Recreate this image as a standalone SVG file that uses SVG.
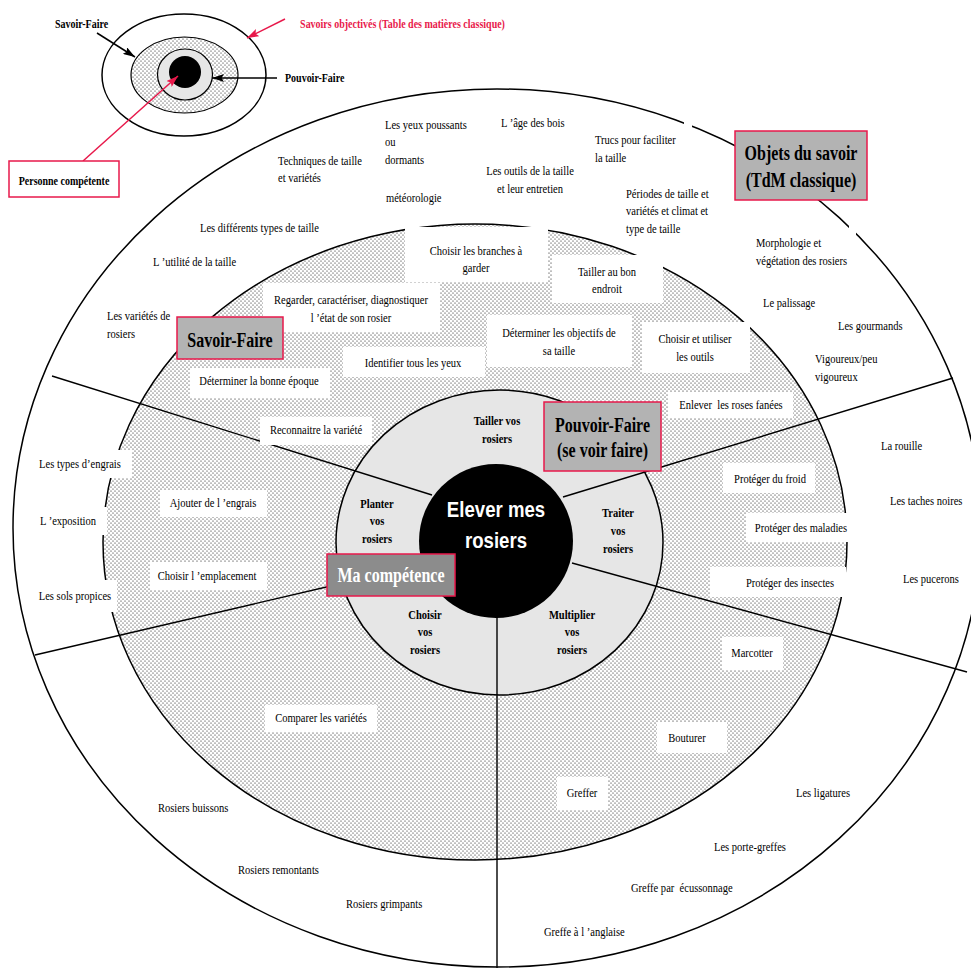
<svg xmlns="http://www.w3.org/2000/svg" width="971" height="970" viewBox="0 0 971 970">
<defs>
<pattern id="dots" width="4" height="4" patternUnits="userSpaceOnUse">
<rect width="4" height="4" fill="#fff"/>
<circle cx="1" cy="1" r="0.55" fill="#000"/>
<circle cx="3" cy="3" r="0.55" fill="#000"/>
</pattern>
<marker id="ak" viewBox="0 0 10 10" refX="10" refY="5" markerWidth="12" markerHeight="8" markerUnits="userSpaceOnUse" orient="auto" preserveAspectRatio="none"><path d="M0,0 L10,5 L0,10 L2,5 z" fill="#000"/></marker>
<marker id="ar" viewBox="0 0 10 10" refX="10" refY="5" markerWidth="12" markerHeight="8" markerUnits="userSpaceOnUse" orient="auto" preserveAspectRatio="none"><path d="M0,0 L10,5 L0,10 L2,5 z" fill="#e8194b"/></marker>
<style>
.t{font-family:"Liberation Serif","Times New Roman",serif;font-size:13px;fill:#000}
.b{font-weight:bold}
.c{text-anchor:middle}
.ttl{font-family:"Liberation Serif","Times New Roman",serif;font-size:20px;font-weight:bold;fill:#000;text-anchor:middle}
.lg{font-family:"Liberation Serif","Times New Roman",serif;font-size:12.5px;font-weight:bold;fill:#000}
.ctr{font-family:"Liberation Sans",Arial,sans-serif;font-size:23px;font-weight:bold;fill:#fff;text-anchor:middle}
.wb{fill:#fff;stroke:none}
.tb{fill:#b3b3b3;stroke:#e8194b;stroke-width:1.5}
.ln{stroke:#000;stroke-width:1.4;fill:none}
</style>
</defs>
<rect width="971" height="970" fill="#fff"/>

<g id="legend">
<ellipse cx="184" cy="75" rx="82" ry="61" fill="#fff" stroke="#000" stroke-width="1.5"/>
<ellipse cx="184.5" cy="75" rx="53.5" ry="38" fill="url(#dots)" stroke="#000" stroke-width="1.2"/>
<ellipse cx="185" cy="74.5" rx="27.5" ry="25.5" fill="#e6e6e6" stroke="#000" stroke-width="1.2"/>
<circle cx="185" cy="72" r="16" fill="#000"/>
</g>

<g id="rings">
<ellipse cx="497" cy="528" rx="484" ry="439" fill="#fff" stroke="#000" stroke-width="1.5"/>
<ellipse cx="475" cy="542" rx="372" ry="318" fill="url(#dots)" stroke="#000" stroke-width="1.5"/>
<ellipse cx="499.5" cy="542.5" rx="163.5" ry="152.5" fill="#e6e6e6" stroke="#000" stroke-width="1.5"/>
<circle cx="496" cy="541" r="77" fill="#000"/>
</g>

<g id="connectors">
<line class="ln" x1="52" y1="376" x2="432" y2="495"/>
<line class="ln" x1="35" y1="655" x2="335" y2="585"/>
<line class="ln" x1="497" y1="617" x2="497" y2="968"/>
<line class="ln" x1="572" y1="563" x2="967" y2="672"/>
<line class="ln" x1="563" y1="497" x2="953" y2="378"/>
<line stroke="#000" stroke-width="1.5" x1="97" y1="33" x2="135" y2="57" marker-end="url(#ak)"/>
<line stroke="#000" stroke-width="1.5" x1="277" y1="78" x2="212" y2="78" marker-end="url(#ak)"/>
<line stroke="#e8194b" stroke-width="1.5" x1="285" y1="19" x2="247" y2="38" marker-end="url(#ar)"/>
<line stroke="#e8194b" stroke-width="1.5" x1="83" y1="161" x2="178" y2="76" marker-end="url(#ar)"/>
</g>

<g id="label-boxes">
<rect class="wb" x="405" y="227" width="143" height="55"/>
<rect class="wb" x="552" y="255" width="111" height="48"/>
<rect class="wb" x="263" y="283" width="177" height="49"/>
<rect class="wb" x="487" y="315" width="145" height="52"/>
<rect class="wb" x="642" y="322" width="108" height="51"/>
<rect class="wb" x="343" y="347" width="142" height="30"/>
<rect class="wb" x="190" y="368" width="140" height="30"/>
<rect class="wb" x="260" y="417" width="112" height="28"/>
<rect class="wb" x="160" y="490" width="107" height="27"/>
<rect class="wb" x="150" y="562" width="117" height="28"/>
<rect class="wb" x="33" y="450" width="99" height="28"/>
<rect class="wb" x="33" y="507" width="74" height="28"/>
<rect class="wb" x="33" y="580" width="84" height="32"/>
<rect class="wb" x="265" y="705" width="112" height="27"/>
<rect class="wb" x="668" y="392" width="125" height="26"/>
<rect class="wb" x="723" y="463" width="92" height="30"/>
<rect class="wb" x="746" y="513" width="102" height="29"/>
<rect class="wb" x="710" y="567" width="136" height="30"/>
<rect class="wb" x="722" y="637" width="61" height="33"/>
<rect class="wb" x="657" y="722" width="70" height="31"/>
<rect class="wb" x="557" y="777" width="51" height="33"/>
<rect class="wb" x="684" y="114" width="8" height="18"/>
<rect class="wb" x="849" y="219" width="7" height="22"/>
</g>

<g id="node-center">
<text class="ctr" transform="translate(496,517) scale(0.81,1)">Elever mes</text>
<text class="ctr" transform="translate(496,548) scale(0.81,1)">rosiers</text>
</g>

<g id="node-objets">
<rect class="tb" x="735" y="131" width="132" height="69"/>
<text class="ttl" transform="translate(801,160) scale(0.8,1)">Objets du savoir</text>
<text class="ttl" transform="translate(801,187) scale(0.8,1)">(TdM classique)</text>
</g>
<g id="node-savoir-faire">
<rect class="tb" x="177" y="317" width="106" height="42"/>
<text class="ttl" transform="translate(230,347) scale(0.8,1)">Savoir-Faire</text>
</g>
<g id="node-pouvoir-faire">
<rect class="tb" x="544" y="402" width="117" height="69"/>
<text class="ttl" transform="translate(602.5,432) scale(0.8,1)">Pouvoir-Faire</text>
<text class="ttl" transform="translate(602.5,457) scale(0.8,1)">(se voir faire)</text>
</g>
<g id="node-competence">
<rect x="327" y="554" width="128" height="42" fill="#8c8c8c" stroke="#e8194b" stroke-width="1.5"/>
<text class="ttl" style="fill:#fff" transform="translate(391,582) scale(0.8,1)">Ma compétence</text>
</g>

<g id="legend-labels">
<text class="lg c" transform="translate(81.5,28) scale(0.8,1)">Savoir-Faire</text>
<text class="lg c" style="fill:#e8194b" transform="translate(402.5,28) scale(0.8,1)">Savoirs objectivés (Table des matières classique)</text>
<text class="lg" transform="translate(285,82) scale(0.8,1)">Pouvoir-Faire</text>
<g id="node-personne">
<rect x="9" y="161" width="110" height="36" fill="#fff" stroke="#e8194b" stroke-width="1.5"/>
<text class="lg c" transform="translate(64,185) scale(0.8,1)">Personne compétente</text>
</g>
</g>

<g id="pouvoir-labels">
<text class="t b c" transform="translate(497,425) scale(0.81,1)">Tailler vos<tspan x="0" dy="18">rosiers</tspan></text>
<text class="t b c" transform="translate(377,508) scale(0.81,1)">Planter<tspan x="0" dy="17.5">vos</tspan><tspan x="0" dy="17.5">rosiers</tspan></text>
<text class="t b c" transform="translate(618,517) scale(0.81,1)">Traiter<tspan x="0" dy="18">vos</tspan><tspan x="0" dy="18">rosiers</tspan></text>
<text class="t b c" transform="translate(425,619) scale(0.81,1)">Choisir<tspan x="0" dy="17.5">vos</tspan><tspan x="0" dy="17.5">rosiers</tspan></text>
<text class="t b c" transform="translate(572,619) scale(0.81,1)">Multiplier<tspan x="0" dy="17.5">vos</tspan><tspan x="0" dy="17.5">rosiers</tspan></text>
</g>

<g id="savoir-faire-labels">
<text class="t c" transform="translate(476,255) scale(0.81,1)">Choisir les branches à<tspan x="0" dy="17.5">garder</tspan></text>
<text class="t c" transform="translate(607,276) scale(0.81,1)">Tailler au bon<tspan x="0" dy="17.5">endroit</tspan></text>
<text class="t c" transform="translate(351,304) scale(0.81,1)">Regarder, caractériser, diagnostiquer<tspan x="0" dy="18">l ’état de son rosier</tspan></text>
<text class="t c" transform="translate(559,337) scale(0.81,1)">Déterminer les objectifs de<tspan x="0" dy="18">sa taille</tspan></text>
<text class="t c" transform="translate(695,343) scale(0.81,1)">Choisir et utiliser<tspan x="0" dy="18.5">les outils</tspan></text>
<text class="t c" transform="translate(413,367) scale(0.81,1)">Identifier tous les yeux</text>
<text class="t c" transform="translate(259,385) scale(0.81,1)">Déterminer la bonne époque</text>
<text class="t c" transform="translate(316,434) scale(0.81,1)">Reconnaitre la variété</text>
<text class="t c" transform="translate(213,507) scale(0.81,1)">Ajouter de l ’engrais</text>
<text class="t c" transform="translate(207,580) scale(0.81,1)">Choisir l ’emplacement</text>
<text class="t c" transform="translate(80,468) scale(0.81,1)">Les types d’engrais</text>
<text class="t c" transform="translate(68,525) scale(0.81,1)">L ’exposition</text>
<text class="t c" transform="translate(75,600) scale(0.81,1)">Les sols propices</text>
<text class="t c" transform="translate(321,722) scale(0.81,1)">Comparer les variétés</text>
<text class="t c" xml:space="preserve" transform="translate(731,409) scale(0.81,1)">Enlever  les roses fanées</text>
<text class="t c" transform="translate(770,483) scale(0.81,1)">Protéger du froid</text>
<text class="t c" transform="translate(801,532) scale(0.81,1)">Protéger des maladies</text>
<text class="t c" transform="translate(790,587) scale(0.81,1)">Protéger des insectes</text>
<text class="t c" transform="translate(752,657) scale(0.81,1)">Marcotter</text>
<text class="t c" transform="translate(687,742) scale(0.81,1)">Bouturer</text>
<text class="t c" transform="translate(582,797) scale(0.81,1)">Greffer</text>
</g>

<g id="savoir-labels">
<text class="t" transform="translate(278,165) scale(0.81,1)">Techniques de taille<tspan x="0" dy="17.5">et variétés</tspan></text>
<text class="t" transform="translate(385,129) scale(0.81,1)">Les yeux poussants<tspan x="0" dy="17.5">ou</tspan><tspan x="0" dy="17.5">dormants</tspan></text>
<text class="t" transform="translate(501,127) scale(0.81,1)">L ’âge des bois</text>
<text class="t c" transform="translate(530,175) scale(0.81,1)">Les outils de la taille<tspan x="0" dy="18">et leur entretien</tspan></text>
<text class="t" transform="translate(386,202) scale(0.81,1)">météorologie</text>
<text class="t" transform="translate(595,144) scale(0.81,1)">Trucs pour faciliter<tspan x="0" dy="18">la taille</tspan></text>
<text class="t" transform="translate(626,198) scale(0.81,1)">Périodes de taille et<tspan x="0" dy="17.5">variétés et climat et</tspan><tspan x="0" dy="17.5">type de taille</tspan></text>
<text class="t" transform="translate(200,232) scale(0.81,1)">Les différents types de taille</text>
<text class="t" transform="translate(153,266) scale(0.81,1)">L ’utilité de la taille</text>
<text class="t" transform="translate(107,320) scale(0.81,1)">Les variétés de<tspan x="0" dy="18">rosiers</tspan></text>
<text class="t" transform="translate(756,247) scale(0.81,1)">Morphologie et<tspan x="0" dy="18">végétation des rosiers</tspan></text>
<text class="t" transform="translate(763,307) scale(0.81,1)">Le palissage</text>
<text class="t" transform="translate(838,330) scale(0.81,1)">Les gourmands</text>
<text class="t" transform="translate(815,363) scale(0.81,1)">Vigoureux/peu<tspan x="0" dy="18.5">vigoureux</tspan></text>
<text class="t" transform="translate(881,450) scale(0.81,1)">La rouille</text>
<text class="t" transform="translate(890,505) scale(0.81,1)">Les taches noires</text>
<text class="t" transform="translate(903,583) scale(0.81,1)">Les pucerons</text>
<text class="t" transform="translate(158,812) scale(0.81,1)">Rosiers buissons</text>
<text class="t" transform="translate(238,874) scale(0.81,1)">Rosiers remontants</text>
<text class="t" transform="translate(346,908) scale(0.81,1)">Rosiers grimpants</text>
<text class="t" transform="translate(796,797) scale(0.81,1)">Les ligatures</text>
<text class="t" transform="translate(714,851) scale(0.81,1)">Les porte-greffes</text>
<text class="t" xml:space="preserve" transform="translate(631,892) scale(0.81,1)">Greffe par  écussonnage</text>
<text class="t" transform="translate(544,936) scale(0.81,1)">Greffe à l ’anglaise</text>
</g>
</svg>
